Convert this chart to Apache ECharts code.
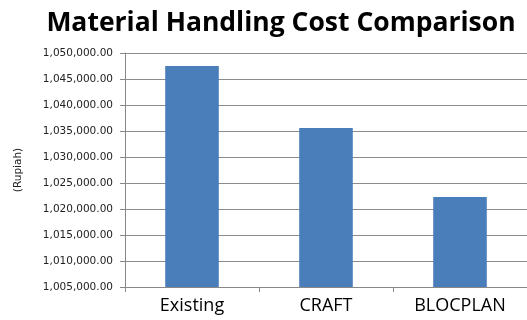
<!DOCTYPE html>
<html>
<head>
<meta charset="utf-8">
<script src="https://cdn.jsdelivr.net/npm/echarts@6/dist/echarts.min.js"></script>
<style>
    html, body { margin: 0; padding: 0; background: #fff; }
    #chart { width: 527px; height: 320px; }
</style>
</head>
<body>
<div id="chart"></div>
<script>
// data
const categories = ['Existing', 'CRAFT', 'BLOCPLAN']
const costs = [1047500, 1035600, 1022300]
const yMin = 1005000
const yMax = 1050000
const yStep = 5000

const chart = echarts.init(document.getElementById('chart'))

const fmt = v => v.toLocaleString('en-US', { minimumFractionDigits: 2, maximumFractionDigits: 2 })

chart.setOption({
    animation: false,
    title: {
        text: 'Material Handling Cost Comparison',
        left: 276,
        textAlign: 'center',
        top: 5,
        textStyle: {
            fontFamily: 'Open Sans',
            fontSize: 26.5,
            fontWeight: 'bold',
            color: '#000'
        }
    },
    grid: {
        left: 125,
        right: 0,
        top: 53,
        bottom: 33
    },
    xAxis: {
        type: 'category',
        data: categories,
        axisLine: { lineStyle: { color: '#888' } },
        axisTick: { show: true, length: 5, lineStyle: { color: '#888' } },
        axisLabel: {
            fontFamily: 'Open Sans',
            fontSize: 18,
            color: '#000',
            margin: 10
        }
    },
    yAxis: {
        type: 'value',
        min: yMin,
        max: yMax,
        interval: yStep,
        name: '(Rupiah)',
        nameLocation: 'middle',
        nameRotate: 90,
        nameGap: 101,
        nameTextStyle: {
            fontFamily: 'DejaVu Sans',
            fontSize: 10.5,
            color: '#222'
        },
        axisLine: { show: true, lineStyle: { color: '#888' } },
        axisTick: { show: true, length: 5, lineStyle: { color: '#888' } },
        splitLine: { lineStyle: { color: '#8c8c8c' } },
        axisLabel: {
            fontFamily: 'DejaVu Sans',
            fontSize: 10.5,
            color: '#222',
            margin: 12,
            formatter: fmt
        }
    },
    series: [
        {
            type: 'bar',
            data: costs,
            barWidth: '40%',
            itemStyle: { color: '#4a7ebb' }
        }
    ]
})
</script>
</body>
</html>
